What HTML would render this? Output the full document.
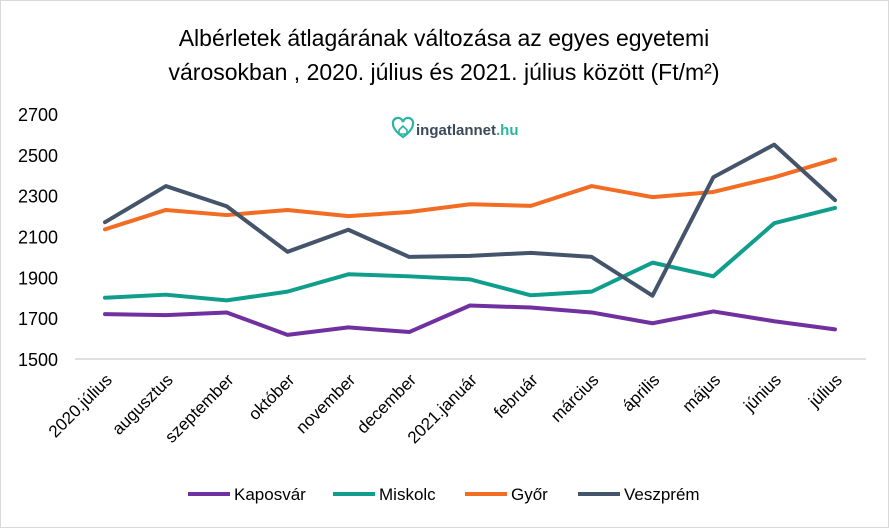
<!DOCTYPE html>
<html><head><meta charset="utf-8"><style>
html,body{margin:0;padding:0;background:#fff;}
svg{display:block;font-family:"Liberation Sans",Calibri,sans-serif;}
</style></head><body>
<svg id="c" width="889" height="528" xmlns="http://www.w3.org/2000/svg">
<rect x="0.5" y="0.5" width="888" height="527" fill="#fff" stroke="#d9d9d9"/>
<text x="444" y="46" text-anchor="middle" font-size="23" fill="#000">Albérletek átlagárának változása az egyes egyetemi</text>
<text x="444" y="80" text-anchor="middle" font-size="23" fill="#000">városokban , 2020. július és 2021. július között (Ft/m²)</text>
<g>
<path d="M403 137 c-7 -5 -10 -9 -10 -13 a5 5 0 0 1 10 -2 a5 5 0 0 1 10 2 c0 4 -3 8 -10 13z" fill="none" stroke="#2bb5a0" stroke-width="2.2"/>
<path d="M399 130 l4 -4 l4 4 v4 h-8z" fill="none" stroke="#2bb5a0" stroke-width="1.6"/>
<text x="416" y="135" font-size="15" font-weight="bold" fill="#3a4a5a">ingatlannet<tspan fill="#2bb5a0">.hu</tspan></text>
</g>
<g id="grid"></g><g id="lines"></g><g id="axes"></g>
</svg>
<script>
const categories=["2020.július","augusztus","szeptember","október","november","december","2021.január","február","március","április","május","június","július"];
const yTicks=[1500,1700,1900,2100,2300,2500,2700];
const kaposvar=[1720,1715,1728,1618,1655,1632,1762,1752,1728,1675,1733,1685,1645];
const miskolc=[1800,1815,1787,1830,1915,1905,1890,1812,1830,1972,1905,2165,2240];
const gyor=[2135,2230,2205,2230,2200,2220,2258,2250,2347,2293,2318,2390,2478];
const veszprem=[2170,2347,2248,2025,2133,2000,2005,2020,2000,1810,2390,2550,2278];
const seriesNames=["Kaposvár","Miskolc","Győr","Veszprém"];
const colors=["#7030a0","#109e8c","#f26c23","#44546a"];
const NS="http://www.w3.org/2000/svg";
const x0=105,x1=835,yTop=114,yBot=359,vMin=1500,vMax=2700;
const xs=i=>x0+(x1-x0)*i/(categories.length-1);
const ys=v=>yBot-(v-vMin)/(vMax-vMin)*(yBot-yTop);
function mk(t,a,p){const e=document.createElementNS(NS,t);for(const k in a)e.setAttribute(k,a[k]);p.appendChild(e);return e;}
const axes=document.getElementById('axes'),lines=document.getElementById('lines');
yTicks.forEach(v=>{const t=mk('text',{x:58,y:ys(v)+7,'text-anchor':'end','font-size':18,fill:'#000'},axes);


t.textContent=v;});
const ax=mk('line',{x1:75,x2:866,y1:yBot,y2:yBot,stroke:'#bfbfbf'},axes);


categories.forEach((c,i)=>{const t=mk('text',{transform:`translate(${xs(i)+8},${yBot+22}) rotate(-45)`,'text-anchor':'end','font-size':17,fill:'#000'},axes);


t.textContent=c;});
[kaposvar,miskolc,gyor,veszprem].forEach((s,k)=>{const p=mk('polyline',{points:s.map((v,i)=>xs(i)+','+ys(v)).join(' '),fill:'none',stroke:colors[k],'stroke-width':4,'stroke-linejoin':'round','stroke-linecap':'round'},lines);

});
const lx=[188,333,465,578];
seriesNames.forEach((n,k)=>{const l=mk('line',{x1:lx[k],x2:lx[k]+42,y1:494,y2:494,stroke:colors[k],'stroke-width':4},axes);


const t=mk('text',{x:lx[k]+46,y:500,'font-size':17,fill:'#000'},axes);


t.textContent=n;});
</script>
</body></html>
